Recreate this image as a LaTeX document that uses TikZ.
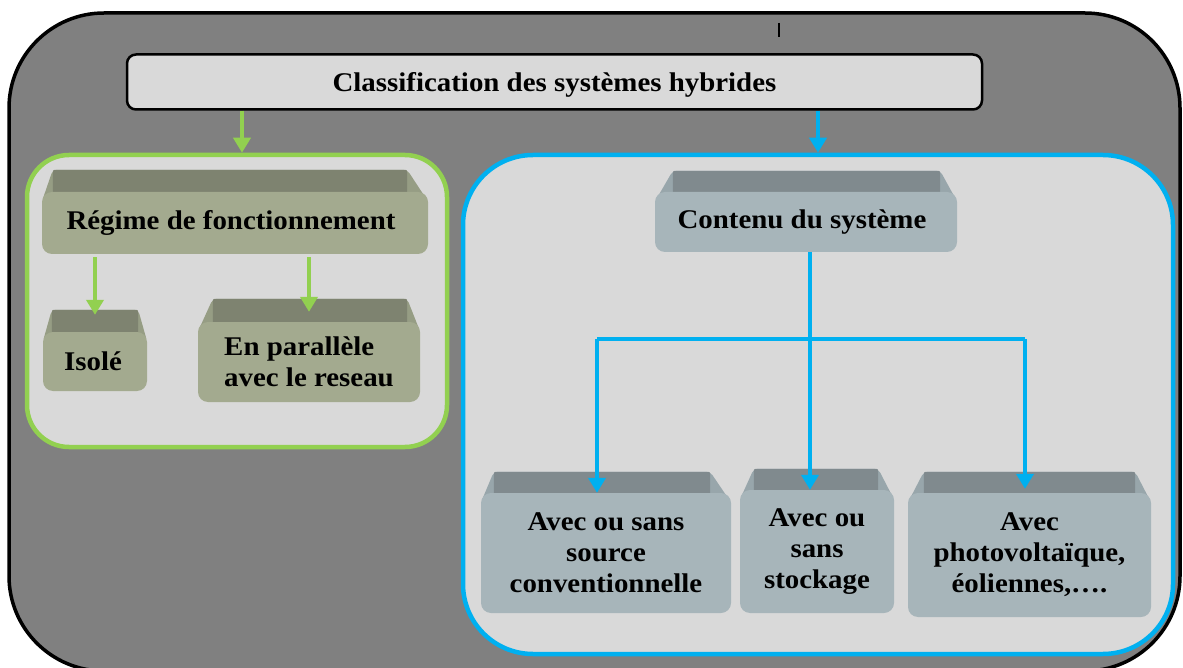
\documentclass[tikz,border=0pt]{standalone}
\usepackage{fontspec}
\setmainfont{Liberation Serif}[FakeStretch=1.07]
\usetikzlibrary{arrows.meta}

\definecolor{framegray}{RGB}{128,128,128}
\definecolor{panel}{RGB}{217,217,217}
\definecolor{leafgreen}{RGB}{146,208,80}
\definecolor{skyblue}{RGB}{0,176,240}
\definecolor{olivefront}{RGB}{163,170,143}
\definecolor{olivetop}{RGB}{126,131,112}
\definecolor{oliveside}{RGB}{150,157,132}
\definecolor{steelfront}{RGB}{167,181,186}
\definecolor{steeltop}{RGB}{128,138,142}
\definecolor{steelside}{RGB}{152,166,171}

\pgfdeclarelayer{panels}
\pgfdeclarelayer{faces}
\pgfsetlayers{panels,faces,main}

% top of a bevelled box: node, left inset, right inset, height, top colour, side colour
\newcommand\boxtop[6]{%
  \fill[#6, rounded corners=4pt]
    ([yshift=-10pt]#1.north west) --
    ([xshift=#2pt, yshift=#4pt]#1.north west) --
    ([xshift=-#3pt, yshift=#4pt]#1.north east) --
    ([yshift=-10pt]#1.north east) -- cycle;
  \fill[#5, rounded corners=2pt]
    ([xshift=#2pt, yshift=#4pt]#1.north west) rectangle
    ([xshift=-#3pt, yshift=-2pt]#1.north east);}

\begin{document}
\begin{tikzpicture}[x=1pt, y=-1pt,
  label text/.style={font=\bfseries\fontsize{27}{31}\selectfont, text=black, inner sep=0pt},
  outerframe/.style={draw=black, line width=3.5pt, fill=framegray, rounded corners=95pt, inner sep=0pt},
  titlebox/.style={label text, draw=black, line width=2.5pt, fill=panel, rounded corners=9pt},
  group/.style={line width=4.5pt, fill=panel, inner sep=0pt},
  olivebox/.style={label text, fill=olivefront, rounded corners=10pt},
  steelbox/.style={label text, fill=steelfront, rounded corners=10pt, align=center},
  gline/.style={draw=leafgreen, line width=4pt},
  bline/.style={draw=skyblue, line width=4pt},
  tip/.style={-{Triangle[width=17pt, length=15pt]}}
]
\useasboundingbox (0,0) rectangle (1183,668);

% outer frame and the two group panels
\begin{pgfonlayer}{panels}
  \node[outerframe, minimum width=1171pt, minimum height=658pt] (frame) at (594.5,342) {};
  \node[group, draw=leafgreen, rounded corners=42pt, minimum width=420pt, minimum height=292pt] (grpA) at (237,301) {};
  \node[group, draw=skyblue, rounded corners=70pt, minimum width=710pt, minimum height=499pt] (grpB) at (818,404.5) {};
\end{pgfonlayer}

\draw[line width=1.3pt] (779,23) -- (779,37);

% title
\node[titlebox, text depth=0pt, minimum width=855pt, minimum height=55pt] (title) at (554.5,82) {Classification des systèmes hybrides};

% operating mode branch
\node[olivebox, minimum width=386pt, minimum height=62pt] (regime) at (235,223) {\hspace*{-8pt}Régime de fonctionnement};
\node[olivebox, minimum width=104pt, minimum height=59pt] (iso) at (95,361.5) {Isolé\hspace*{4pt}};
\node[olivebox, align=left, minimum width=222pt, minimum height=80pt] (par) at (309,362) {En parallèle\\avec le reseau};

% system content branch
\node[steelbox, minimum width=302pt, minimum height=60pt] (cont) at (806,222) {Contenu du système\hspace*{8pt}};
\node[steelbox, minimum width=250pt, minimum height=120pt] (b1) at (606,553) {Avec ou sans\\source\\conventionnelle};
\node[steelbox, minimum width=154pt, minimum height=123pt] (b2) at (817,551.5) {Avec ou\\sans\\stockage};
\node[steelbox, minimum width=243pt, minimum height=124pt] (b3) at (1029.5,555) {Avec\\photovoltaïque,\\éoliennes,….};

\begin{pgfonlayer}{faces}
  \boxtop{regime}{11}{21}{22}{olivetop}{oliveside}
  \boxtop{iso}{9}{9}{22}{olivetop}{oliveside}
  \boxtop{par}{15}{13}{23}{olivetop}{oliveside}
  \boxtop{cont}{18}{17}{21}{steeltop}{steelside}
  \boxtop{b1}{13}{21}{21}{steeltop}{steelside}
  \boxtop{b2}{14}{16}{21}{steeltop}{steelside}
  \boxtop{b3}{16}{16}{21}{steeltop}{steelside}
\end{pgfonlayer}

% connectors
\coordinate (ga) at (242,0);
\draw[gline, tip] (title.south -| ga) -- (grpA.north -| ga);
\draw[bline, tip] (title.south -| grpB.north) -- (grpB.north);

\draw[gline, tip] ([yshift=-3pt]regime.south -| iso.north) -- ([yshift=17pt]iso.north);
\draw[gline, tip] ([yshift=-3pt]regime.south -| par.north) -- ([yshift=10pt]par.north);

\coordinate (busL) at (597,339);
\coordinate (busM) at (810,339);
\coordinate (busR) at (1025,339);
\draw[bline] (busL) -- (busR);
\draw[bline, tip] (cont.south -| busM) -- (b2.north -| busM);
\draw[bline, tip] (busL) -- (b1.north -| busL);
\draw[bline, tip] (busR) -- ([yshift=4pt]b3.north -| busR);
\end{tikzpicture}
\end{document}
